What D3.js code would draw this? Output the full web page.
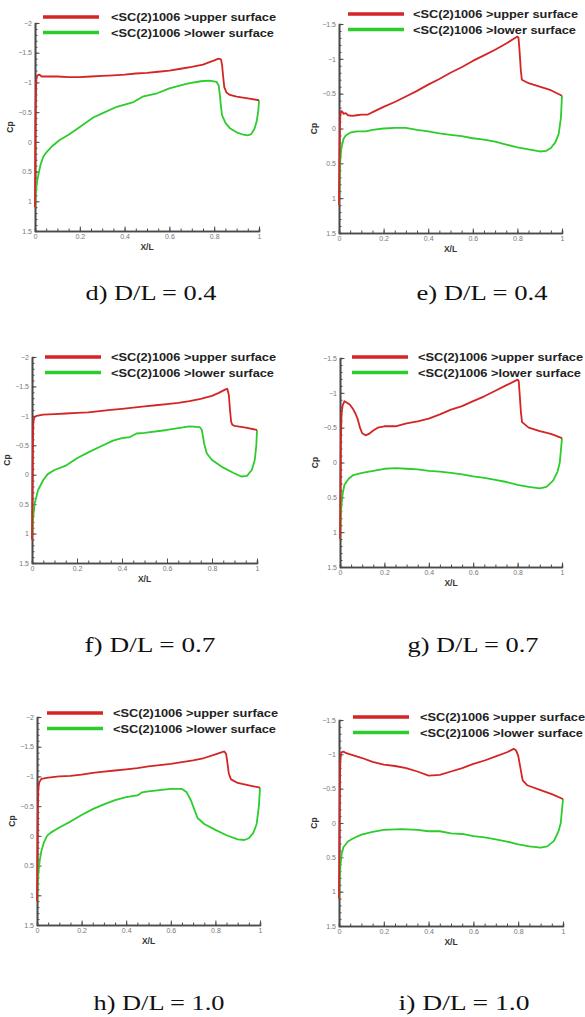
<!DOCTYPE html>
<html>
<head>
<meta charset="utf-8">
<script src="https://cdn.jsdelivr.net/npm/d3@7"></script>
<style>
  body { margin: 0; background: #fff; }
  svg { display: block; }
</style>
</head>
<body>
<svg id="chart" width="585" height="1017"></svg>
<script>
// Cp distributions, [x/L, Cp]
const upperD = [[0,1.1],[0.001,0.5],[0.002,-0.2],[0.004,-0.8],[0.006,-1.05],[0.01,-1.12],[0.02,-1.13],[0.03,-1.1],[0.05,-1.1],[0.1,-1.1],[0.15,-1.09],[0.2,-1.09],[0.25,-1.1],[0.3,-1.11],[0.35,-1.12],[0.4,-1.13],[0.45,-1.15],[0.5,-1.16],[0.55,-1.18],[0.6,-1.2],[0.65,-1.23],[0.7,-1.26],[0.75,-1.3],[0.8,-1.37],[0.82,-1.4],[0.83,-1.39],[0.835,-1.3],[0.84,-1.1],[0.845,-0.92],[0.855,-0.83],[0.87,-0.79],[0.9,-0.76],[0.95,-0.73],[1.0,-0.7]]
const lowerD = [[0,1.1],[0.003,0.9],[0.008,0.7],[0.015,0.55],[0.025,0.38],[0.037,0.25],[0.05,0.18],[0.06,0.14],[0.08,0.06],[0.11,-0.03],[0.15,-0.12],[0.2,-0.25],[0.26,-0.41],[0.3,-0.48],[0.365,-0.59],[0.44,-0.67],[0.48,-0.76],[0.54,-0.81],[0.6,-0.9],[0.68,-0.98],[0.74,-1.02],[0.78,-1.03],[0.81,-1.01],[0.82,-0.95],[0.825,-0.8],[0.83,-0.6],[0.835,-0.45],[0.85,-0.32],[0.87,-0.23],[0.9,-0.16],[0.93,-0.12],[0.95,-0.11],[0.965,-0.13],[0.98,-0.22],[0.99,-0.35],[0.997,-0.53],[1.0,-0.7]]

const upperE = [[0,1.1],[0.002,0.5],[0.004,0],[0.006,-0.2],[0.01,-0.25],[0.015,-0.24],[0.02,-0.21],[0.03,-0.22],[0.04,-0.19],[0.06,-0.18],[0.08,-0.19],[0.1,-0.2],[0.13,-0.2],[0.16,-0.25],[0.2,-0.31],[0.25,-0.38],[0.3,-0.46],[0.35,-0.54],[0.4,-0.63],[0.45,-0.71],[0.5,-0.8],[0.55,-0.88],[0.6,-0.97],[0.65,-1.05],[0.7,-1.13],[0.75,-1.22],[0.8,-1.32],[0.805,-1.3],[0.81,-1.1],[0.815,-0.85],[0.82,-0.7],[0.85,-0.65],[0.9,-0.6],[0.95,-0.55],[1.0,-0.47]]
const lowerE = [[0,1.1],[0.003,0.7],[0.006,0.45],[0.01,0.3],[0.02,0.15],[0.03,0.1],[0.05,0.06],[0.08,0.04],[0.12,0.04],[0.15,0.02],[0.2,0.0],[0.25,-0.01],[0.3,-0.01],[0.35,0.02],[0.4,0.04],[0.45,0.07],[0.5,0.09],[0.55,0.11],[0.6,0.14],[0.65,0.16],[0.7,0.19],[0.75,0.23],[0.8,0.27],[0.85,0.3],[0.9,0.33],[0.93,0.32],[0.95,0.28],[0.97,0.2],[0.985,0.08],[0.995,-0.15],[1.0,-0.47]]

const upperF = [[0,1.1],[0.002,0.3],[0.004,-0.5],[0.006,-0.9],[0.01,-0.97],[0.02,-1.0],[0.05,-1.02],[0.1,-1.03],[0.15,-1.04],[0.2,-1.05],[0.25,-1.06],[0.3,-1.08],[0.35,-1.1],[0.4,-1.12],[0.45,-1.14],[0.5,-1.16],[0.55,-1.18],[0.6,-1.2],[0.65,-1.22],[0.7,-1.25],[0.75,-1.29],[0.8,-1.34],[0.83,-1.39],[0.86,-1.45],[0.868,-1.46],[0.875,-1.35],[0.88,-1.1],[0.885,-0.9],[0.89,-0.85],[0.9,-0.83],[0.95,-0.8],[1.0,-0.76]]
const lowerF = [[0,1.1],[0.003,0.85],[0.007,0.65],[0.012,0.49],[0.027,0.26],[0.05,0.09],[0.07,-0.01],[0.1,-0.08],[0.153,-0.16],[0.2,-0.28],[0.25,-0.38],[0.3,-0.47],[0.36,-0.58],[0.4,-0.62],[0.435,-0.64],[0.465,-0.7],[0.5,-0.71],[0.6,-0.76],[0.7,-0.82],[0.745,-0.81],[0.755,-0.76],[0.765,-0.53],[0.777,-0.36],[0.8,-0.25],[0.85,-0.12],[0.896,-0.03],[0.93,0.03],[0.955,0.02],[0.977,-0.08],[0.99,-0.25],[0.997,-0.5],[1.0,-0.76]]

const upperG = [[0,1.1],[0.002,0.4],[0.004,-0.3],[0.007,-0.7],[0.012,-0.82],[0.02,-0.88],[0.03,-0.86],[0.045,-0.83],[0.06,-0.76],[0.07,-0.7],[0.08,-0.62],[0.09,-0.5],[0.1,-0.42],[0.115,-0.39],[0.13,-0.41],[0.15,-0.46],[0.17,-0.5],[0.2,-0.52],[0.25,-0.52],[0.3,-0.56],[0.35,-0.59],[0.4,-0.63],[0.45,-0.69],[0.5,-0.76],[0.55,-0.81],[0.6,-0.88],[0.65,-0.95],[0.7,-1.03],[0.75,-1.11],[0.8,-1.19],[0.805,-1.17],[0.81,-0.95],[0.815,-0.72],[0.82,-0.58],[0.85,-0.5],[0.9,-0.45],[0.95,-0.41],[1.0,-0.35]]
const lowerG = [[0,1.1],[0.003,0.8],[0.007,0.6],[0.012,0.45],[0.02,0.32],[0.04,0.23],[0.06,0.18],[0.1,0.15],[0.15,0.12],[0.2,0.09],[0.25,0.08],[0.3,0.09],[0.35,0.1],[0.4,0.12],[0.45,0.13],[0.5,0.15],[0.55,0.17],[0.6,0.2],[0.65,0.22],[0.7,0.25],[0.75,0.28],[0.8,0.32],[0.85,0.35],[0.9,0.37],[0.93,0.35],[0.96,0.26],[0.98,0.13],[0.99,0.0],[1.0,-0.35]]

const upperH = [[0,1.1],[0.002,0.4],[0.004,-0.4],[0.006,-0.8],[0.01,-0.9],[0.02,-0.96],[0.05,-0.98],[0.1,-1.0],[0.15,-1.01],[0.2,-1.03],[0.25,-1.06],[0.3,-1.08],[0.35,-1.1],[0.4,-1.12],[0.45,-1.14],[0.5,-1.17],[0.55,-1.19],[0.6,-1.21],[0.65,-1.24],[0.7,-1.27],[0.75,-1.31],[0.8,-1.37],[0.84,-1.42],[0.848,-1.38],[0.855,-1.2],[0.86,-1.05],[0.87,-0.95],[0.9,-0.89],[0.95,-0.85],[1.0,-0.81]]
const lowerH = [[0,1.1],[0.003,0.85],[0.007,0.6],[0.012,0.42],[0.02,0.25],[0.03,0.12],[0.045,0.0],[0.06,-0.05],[0.1,-0.14],[0.15,-0.24],[0.2,-0.35],[0.25,-0.45],[0.3,-0.53],[0.35,-0.6],[0.4,-0.65],[0.45,-0.68],[0.47,-0.73],[0.5,-0.75],[0.55,-0.77],[0.6,-0.79],[0.65,-0.79],[0.67,-0.74],[0.69,-0.6],[0.71,-0.4],[0.72,-0.3],[0.75,-0.2],[0.8,-0.1],[0.85,-0.01],[0.9,0.06],[0.93,0.07],[0.95,0.04],[0.97,-0.05],[0.985,-0.2],[0.995,-0.5],[1.0,-0.81]]

const upperI = [[0,1.1],[0.002,0.3],[0.004,-0.5],[0.006,-0.9],[0.01,-1.03],[0.02,-1.04],[0.03,-1.02],[0.05,-1.0],[0.1,-0.95],[0.15,-0.89],[0.2,-0.85],[0.25,-0.83],[0.3,-0.8],[0.35,-0.75],[0.4,-0.69],[0.45,-0.7],[0.5,-0.75],[0.55,-0.8],[0.6,-0.86],[0.65,-0.91],[0.7,-0.97],[0.75,-1.03],[0.78,-1.08],[0.79,-1.06],[0.8,-0.98],[0.81,-0.8],[0.82,-0.62],[0.84,-0.55],[0.9,-0.48],[0.95,-0.42],[1.0,-0.35]]
const lowerI = [[0,1.1],[0.003,0.8],[0.007,0.6],[0.012,0.45],[0.02,0.35],[0.04,0.27],[0.06,0.23],[0.1,0.17],[0.15,0.13],[0.2,0.1],[0.28,0.09],[0.35,0.1],[0.4,0.12],[0.45,0.12],[0.5,0.15],[0.55,0.16],[0.6,0.19],[0.65,0.21],[0.7,0.24],[0.75,0.27],[0.8,0.31],[0.85,0.34],[0.9,0.36],[0.93,0.34],[0.96,0.26],[0.98,0.12],[0.99,0.0],[1.0,-0.35]]

const captions = ["d) D/L = 0.4", "e) D/L = 0.4", "f) D/L = 0.7", "g) D/L = 0.7", "h) D/L = 1.0", "i) D/L = 1.0"]
const legendNames = ["<SC(2)1006 >upper surface", "<SC(2)1006 >lower surface"]
const xTicks = [0, 0.2, 0.4, 0.6, 0.8, 1]
const yTicksLeft = [-2, -1.5, -1, -0.5, 0, 0.5, 1, 1.5]
const yTicksRight = [-1.5, -1, -0.5, 0, 0.5, 1, 1.5]

const red = "#d42525"
const green = "#2ccc2c"
const axisColor = "#4a4a4a"

const svg = d3.select("#chart")

// frame of each panel on the page: plot box, legend spot, caption spot
const frames = [
  {x0: 35, x1: 259, y0: 23, y1: 231, lx: 43, ly: 17, tx: 111, cx: 151, cy: 300},
  {x0: 339, x1: 562, y0: 24, y1: 233, lx: 348, ly: 14, tx: 413, cx: 482, cy: 300},
  {x0: 32, x1: 257, y0: 357, y1: 563, lx: 45, ly: 357, tx: 111, cx: 150, cy: 652},
  {x0: 340, x1: 562, y0: 358, y1: 567, lx: 352, ly: 357, tx: 418, cx: 473, cy: 652},
  {x0: 37, x1: 260, y0: 717, y1: 925, lx: 47, ly: 713, tx: 113, cx: 159, cy: 1010},
  {x0: 339, x1: 563, y0: 720, y1: 926, lx: 353, ly: 717, tx: 420, cx: 464, cy: 1010}
]
const series = [[upperD, lowerD], [upperE, lowerE], [upperF, lowerF], [upperG, lowerG], [upperH, lowerH], [upperI, lowerI]]

function drawPanel(i) {
  const f = frames[i]
  const yTicks = i % 2 == 0 ? yTicksLeft : yTicksRight
  const x = d3.scaleLinear().domain([0, 1]).range([f.x0, f.x1])
  const y = d3.scaleLinear().domain([yTicks[0], 1.5]).range([f.y0, f.y1])
  const g = svg.append("g")

  // minor ticks first, then major axis on top
  g.append("g")
    .attr("transform", `translate(0,${f.y1})`)
    .call(d3.axisBottom(x).tickValues(d3.range(0, 1.0001, 0.05)).tickSize(-2.5).tickFormat(""))
  g.append("g")
    .attr("transform", `translate(${f.x0},0)`)
    .call(d3.axisLeft(y).tickValues(d3.range(yTicks[0], 1.5001, 0.1)).tickSize(-2.5).tickFormat(""))

  g.append("g")
    .attr("class", "xa")
    .attr("transform", `translate(0,${f.y1})`)
    .call(d3.axisBottom(x).tickValues(xTicks).tickSize(-4.5).tickSizeOuter(0).tickPadding(3).tickFormat(d3.format("")))
  g.append("g")
    .attr("class", "ya")
    .attr("transform", `translate(${f.x0},0)`)
    .call(d3.axisLeft(y).tickValues(yTicks).tickSize(-4.5).tickSizeOuter(0).tickPadding(3).tickFormat(d3.format("")))

  g.selectAll(".domain").attr("stroke", axisColor).attr("stroke-width", 1.6)
  g.selectAll(".tick line").attr("stroke", axisColor).attr("stroke-width", 1)
  g.selectAll(".tick text")
    .attr("fill", "#777")
    .style("font-family", "'Liberation Sans', Arial, sans-serif")
    .style("font-size", "7px")

  const line = d3.line().x(d => x(d[0])).y(d => y(d[1]))
  const [up, low] = series[i]
  g.append("path").datum(low).attr("d", line)
    .attr("fill", "none").attr("stroke", green).attr("stroke-width", 1.8).attr("stroke-linejoin", "round")
  g.append("path").datum(up).attr("d", line)
    .attr("fill", "none").attr("stroke", red).attr("stroke-width", 1.8).attr("stroke-linejoin", "round")

  // axis titles
  g.append("text")
    .attr("x", (f.x0 + f.x1) / 2)
    .attr("y", f.y1 + 19)
    .attr("text-anchor", "middle")
    .style("font-family", "'Liberation Sans', Arial, sans-serif")
    .style("font-size", "8.5px").style("font-weight", "bold").attr("fill", "#333")
    .text("X/L")
  g.append("text")
    .attr("transform", `translate(${f.x0 - 22},${(f.y0 + f.y1) / 2}) rotate(-90)`)
    .attr("text-anchor", "middle")
    .style("font-family", "'Liberation Sans', Arial, sans-serif")
    .style("font-size", "8.5px").style("font-weight", "bold").attr("fill", "#333")
    .text("Cp")

  // legend
  const cols = [red, green]
  legendNames.forEach((name, k) => {
    const ly = f.ly + k * 15.5
    g.append("line")
      .attr("x1", f.lx).attr("x2", f.lx + 56)
      .attr("y1", ly).attr("y2", ly)
      .attr("stroke", cols[k]).attr("stroke-width", 3.5)
    g.append("text")
      .attr("x", f.tx).attr("y", ly + 4)
      .attr("textLength", k == 0 ? 165 : 163)
      .attr("lengthAdjust", "spacingAndGlyphs")
      .style("font-family", "'Liberation Sans', Arial, sans-serif")
      .style("font-size", "11.5px").style("font-weight", "bold").attr("fill", "#222")
      .text(name)
  })

  // caption
  g.append("text")
    .attr("x", f.cx).attr("y", f.cy)
    .attr("text-anchor", "middle")
    .attr("textLength", 131)
    .attr("lengthAdjust", "spacingAndGlyphs")
    .style("font-family", "'Liberation Serif', 'Times New Roman', serif")
    .style("font-size", "21px").attr("fill", "#111")
    .text(captions[i])
}

for (let i = 0; i < frames.length; i++) drawPanel(i)
</script>
</body>
</html>
